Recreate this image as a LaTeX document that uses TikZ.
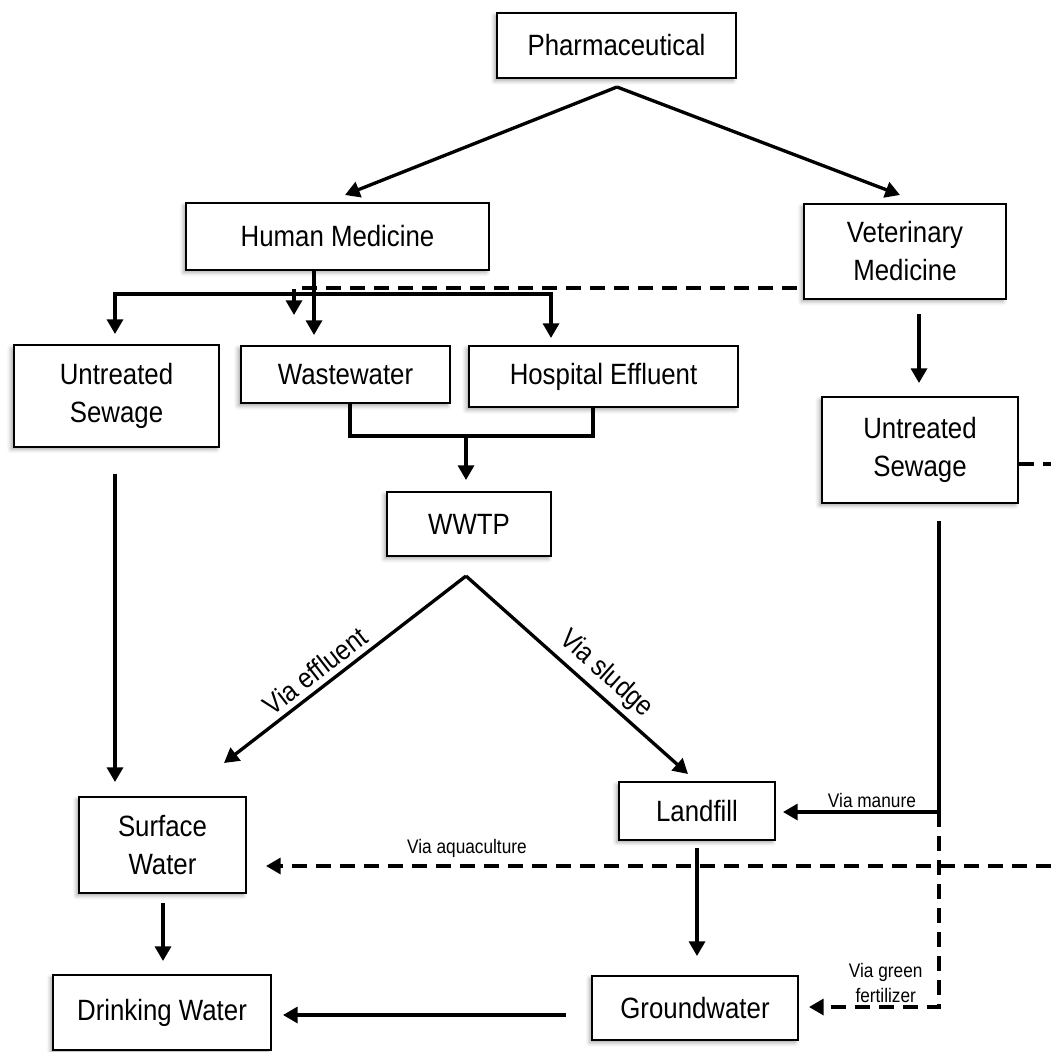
\documentclass[tikz,border=0pt]{standalone}
\usepackage{fontspec}
\setmainfont{Liberation Sans}[FakeStretch=0.88]
\usetikzlibrary{arrows.meta,calc,positioning,shadows.blur}

\begin{document}
\begin{tikzpicture}[
		x=0.75pt, y=-0.75pt,
		box/.style={draw, line width=1.5pt, fill=white, align=center, inner sep=2pt,
			font=\fontsize{22}{28.5}\selectfont,
			blur shadow={shadow xshift=-2pt, shadow yshift=-2pt, shadow blur radius=3pt, shadow opacity=35}},
		lbl/.style={font=\fontsize{14.7}{18.5}\selectfont, inner sep=2pt, align=center},
		slopelbl/.style={font=\fontsize{21}{25}\selectfont, inner sep=4pt, sloped, above},
		link/.style={line width=2.5pt},
		tip/.style={Triangle[length=11pt,width=12pt]},
		arr/.style={link, -{Triangle[length=11pt,width=12pt]}},
		dasharr/.style={arr, dash pattern=on 11pt off 7pt},
		]
		\useasboundingbox (0,0) rectangle (1051,1052);
		
		% Les boites
		\node[box, minimum width=179pt, minimum height=49pt] (pharma) at (616.5,45.5) {Pharmaceutical};
		\node[box, minimum width=227pt, minimum height=50pt] (human) at (337.5,236.5) {Human Medicine};
		\node[box, minimum width=151pt, minimum height=71pt] (vet) at (905,251.5) {Veterinary\\Medicine};
		\node[box, minimum width=154pt, minimum height=76pt] (sewL) at (116.5,396) {Untreated\\Sewage};
		\node[box, minimum width=157pt, minimum height=43pt] (waste) at (345.5,374.5) {Wastewater};
		\node[box, minimum width=202pt, minimum height=46pt] (hosp) at (603.5,376.5) {Hospital Effluent};
		\node[box, minimum width=147pt, minimum height=79pt] (sewR) at (920,450) {Untreated\\Sewage};
		\node[box, minimum width=123pt, minimum height=48pt] (wwtp) at (469,524) {WWTP};
		\node[box, minimum width=125pt, minimum height=72pt] (surf) at (162.5,845) {Surface\\Water};
		\node[box, minimum width=117pt, minimum height=43pt] (landfill) at (697,811) {Landfill};
		\node[box, minimum width=163pt, minimum height=56pt] (drink) at (162,1012.5) {Drinking Water};
		\node[box, minimum width=154pt, minimum height=48pt] (ground) at (695,1008) {Groundwater};
		
		% Points libres
		\coordinate (split) at (617,87);
		\coordinate (hmtip) at (345,195);
		\coordinate (vmtip) at (900,195);
		\coordinate (wtip) at (314,335);
		\coordinate (sltip) at (115,334);
		\coordinate (hbus) at (115,294);
		\coordinate (hebus) at (551,294);
		\coordinate (hetip) at (551,338);
		\coordinate (vdash) at (797,288);
		\coordinate (vturn) at (294,288);
		\coordinate (vtip) at (294,315);
		\coordinate (wj) at (350,436);
		\coordinate (hj) at (593,436);
		\coordinate (wwin) at (466,436);
		\coordinate (wwtip) at (466,480);
		\coordinate (vstart) at (919,314);
		\coordinate (vend) at (919,383);
		\coordinate (redge) at (1051,464);
		\coordinate (slstart) at (115,474);
		\coordinate (sltip2) at (115,782);
		\coordinate (wsplit) at (466,576);
		\coordinate (eftip) at (224,763);
		\coordinate (sgtip) at (688,774);
		\coordinate (mtop) at (939,521);
		\coordinate (mjoin) at (939,812);
		\coordinate (mtip) at (783,812);
		\coordinate (gturn) at (939,1007);
		\coordinate (gtip) at (809,1007);
		\coordinate (aqedge) at (1051,866);
		\coordinate (aqtip) at (266,866);
		\coordinate (lfstart) at (697,848);
		\coordinate (lftip) at (697,956);
		\coordinate (swstart) at (163,903);
		\coordinate (swtip) at (163,961);
		\coordinate (gwstart) at (566,1015);
		\coordinate (gwtip) at (283,1015);
		
		% Les fleches
		\draw[arr] (split) -- (hmtip);
		\draw[arr] (split) -- (vmtip);
		\draw[arr] (human.south -| wtip) -- (wtip);
		\draw[link, {Triangle[length=11pt,width=12pt]}-{Triangle[length=11pt,width=12pt]}] (sltip) -- (hbus) -- (hebus) -- (hetip);
		\draw[dasharr] (vdash) -- (vturn) -- (vtip);
		\draw[link] (waste.south -| wj) -- (wj) -- (hj) -- (hosp.south -| hj);
		\draw[arr] (wwin) -- (wwtip);
		\draw[arr] (vstart) -- (vend);
		\draw[link, dash pattern=on 11pt off 7pt] (sewR.east |- redge) -- (redge);
		\draw[arr] (slstart) -- (sltip2);
		\draw[arr] (wsplit) -- node[slopelbl, pos=0.58] {Via effluent} (eftip);
		\draw[arr] (wsplit) -- node[slopelbl, pos=0.57] {Via sludge} (sgtip);
		\draw[link] (mtop) -- (mjoin);
		\draw[arr] (mjoin) -- node[lbl, above, pos=0.43] {Via manure} (mtip);
		\draw[dasharr] (mjoin) -- (gturn) -- node[lbl, above, pos=0.41] {Via green\\fertilizer} (gtip);
		\draw[dasharr] (aqedge) -- node[lbl, above=3pt, pos=0.744] {Via aquaculture} (aqtip);
		\draw[arr] (lfstart) -- (lftip);
		\draw[arr] (swstart) -- (swtip);
		\draw[arr] (gwstart) -- (gwtip);
	\end{tikzpicture}
\end{document}
